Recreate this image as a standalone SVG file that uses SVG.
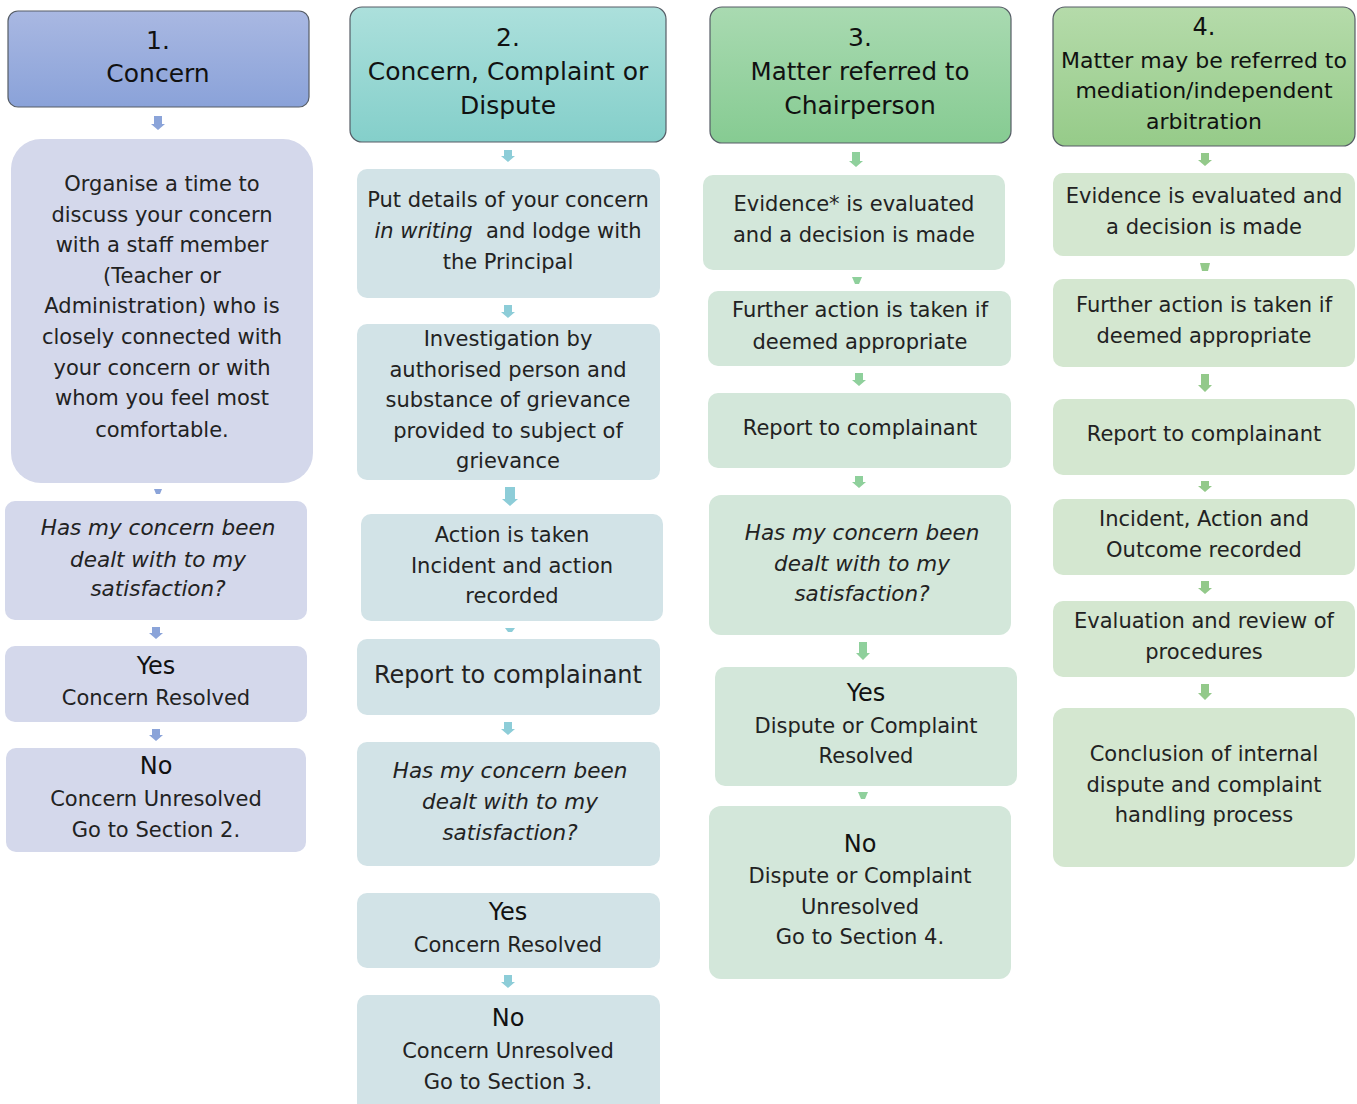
<svg xmlns="http://www.w3.org/2000/svg" width="1357" height="1104" viewBox="0 0 1357 1104">
<defs>
<linearGradient id="g1" x1="0" y1="0" x2="0" y2="1"><stop offset="0" stop-color="#a9b8e2"/><stop offset="1" stop-color="#8aa2d9"/></linearGradient>
<linearGradient id="g2" x1="0" y1="0" x2="0" y2="1"><stop offset="0" stop-color="#ace0dc"/><stop offset="1" stop-color="#84cfca"/></linearGradient>
<linearGradient id="g3" x1="0" y1="0" x2="0" y2="1"><stop offset="0" stop-color="#a9dab1"/><stop offset="1" stop-color="#86cb92"/></linearGradient>
<linearGradient id="g4" x1="0" y1="0" x2="0" y2="1"><stop offset="0" stop-color="#b5dbaa"/><stop offset="1" stop-color="#96cb89"/></linearGradient>
</defs>
<style>
text{font-family:"DejaVu Sans","Liberation Sans",sans-serif;fill:#222;text-anchor:middle;dominant-baseline:central}
.h{stroke:#565d66;stroke-width:1.2}
.t{font-size:21px}
.i{font-size:21.5px;font-style:italic}
.hd{font-size:25px;fill:#111}
.b1{fill:#d4d8eb}.b2{fill:#d2e3e7}.b3{fill:#d3e7da}.b4{fill:#d4e7d0}
.a1{fill:#8ba4d9}.a2{fill:#8dcdd8}.a3{fill:#8fd09c}.a4{fill:#93c98a}
</style>
<g id="connectors">
<path class="a1" d="M154 116H162V124H165L158 130L151 124H154Z"/>
<path class="a1" d="M154 489H162L160 494H156Z"/>
<path class="a1" d="M152 627H160V633H163L156 639L149 633H152Z"/>
<path class="a1" d="M152 729H160V735H163L156 741L149 735H152Z"/>
<path class="a2" d="M504 150H512V156H515L508 162L501 156H504Z"/>
<path class="a2" d="M504 305H512V312H515L508 318L501 312H504Z"/>
<path class="a2" d="M505 487H515V499H518L510 506L502 499H505Z"/>
<path class="a2" d="M505 628H515L512 632H508Z"/>
<path class="a2" d="M504 722H512V729H515L508 735L501 729H504Z"/>
<path class="a2" d="M504 975H512V982H515L508 988L501 982H504Z"/>
<path class="a3" d="M852 152H860V161H863L856 167L849 161H852Z"/>
<path class="a3" d="M852 277H862L859 284H855Z"/>
<path class="a3" d="M855 373H863V380H866L859 386L852 380H855Z"/>
<path class="a3" d="M855 476H863V482H866L859 488L852 482H855Z"/>
<path class="a3" d="M859 642H867V653H870L863 660L856 653H859Z"/>
<path class="a3" d="M858 792H868L865 799H861Z"/>
<path class="a4" d="M1201 153H1209V160H1212L1205 166L1198 160H1201Z"/>
<path class="a4" d="M1200 263H1210L1208 271H1202Z"/>
<path class="a4" d="M1201 374H1209V385H1212L1205 392L1198 385H1201Z"/>
<path class="a4" d="M1201 481H1209V486H1212L1205 492L1198 486H1201Z"/>
<path class="a4" d="M1201 581H1209V588H1212L1205 594L1198 588H1201Z"/>
<path class="a4" d="M1201 684H1209V693H1212L1205 700L1198 693H1201Z"/>
</g>
<g id="h1"><rect class="h" x="8" y="11" width="301" height="96" rx="10" fill="url(#g1)"/><text class="hd" x="158" y="40">1.</text><text class="hd" x="158" y="73">Concern</text></g>
<g id="n1a"><rect class="b1" x="11" y="139" width="302" height="344" rx="30"/>
<text class="t" x="162" y="184">Organise a time to</text><text class="t" x="162" y="215">discuss your concern</text><text class="t" x="162" y="245">with a staff member</text><text class="t" x="162" y="276">(Teacher or</text><text class="t" x="162" y="306">Administration) who is</text><text class="t" x="162" y="337">closely connected with</text><text class="t" x="162" y="368">your concern or with</text><text class="t" x="162" y="398">whom you feel most</text><text class="t" x="162" y="430">comfortable.</text></g>
<g id="n1b"><rect class="b1" x="5" y="501" width="302" height="119" rx="10"/><text class="i" x="158" y="527">Has my concern been</text><text class="i" x="158" y="559">dealt with to my</text><text class="i" x="158" y="588">satisfaction?</text></g>
<g id="n1c"><rect class="b1" x="5" y="646" width="302" height="76" rx="10"/><text class="hd" x="156" y="666" style="font-size:24px">Yes</text><text class="t" x="156" y="698">Concern Resolved</text></g>
<g id="n1d"><rect class="b1" x="6" y="748" width="300" height="104" rx="10"/><text class="hd" x="156" y="766" style="font-size:24px">No</text><text class="t" x="156" y="799">Concern Unresolved</text><text class="t" x="156" y="830">Go to Section 2.</text></g>

<g id="h2"><rect class="h" x="350" y="7" width="316" height="135" rx="12" fill="url(#g2)"/><text class="hd" x="508" y="37">2.</text><text class="hd" x="508" y="71">Concern, Complaint or</text><text class="hd" x="508" y="105">Dispute</text></g>
<g id="n2a"><rect class="b2" x="357" y="169" width="303" height="129" rx="10"/><text class="t" x="508" y="200">Put details of your concern</text><text class="t" x="508" y="231" xml:space="preserve"><tspan font-style="italic">in writing</tspan>  and lodge with</text><text class="t" x="508" y="262">the Principal</text></g>
<g id="n2b"><rect class="b2" x="357" y="324" width="303" height="156" rx="10"/><text class="t" x="508" y="339">Investigation by</text><text class="t" x="508" y="370">authorised person and</text><text class="t" x="508" y="400">substance of grievance</text><text class="t" x="508" y="431">provided to subject of</text><text class="t" x="508" y="461">grievance</text></g>
<g id="n2c"><rect class="b2" x="361" y="514" width="302" height="107" rx="10"/><text class="t" x="512" y="535">Action is taken</text><text class="t" x="512" y="566">Incident and action</text><text class="t" x="512" y="596">recorded</text></g>
<g id="n2d"><rect class="b2" x="357" y="639" width="303" height="76" rx="10"/><text class="t" x="508" y="675" style="font-size:24px">Report to complainant</text></g>
<g id="n2e"><rect class="b2" x="357" y="742" width="303" height="124" rx="10"/><text class="i" x="510" y="770">Has my concern been</text><text class="i" x="510" y="801">dealt with to my</text><text class="i" x="510" y="832">satisfaction?</text></g>
<g id="n2f"><rect class="b2" x="357" y="893" width="303" height="75" rx="10"/><text class="hd" x="508" y="912" style="font-size:24px">Yes</text><text class="t" x="508" y="945">Concern Resolved</text></g>
<g id="n2g"><rect class="b2" x="357" y="995" width="303" height="120" rx="10"/><text class="hd" x="508" y="1018" style="font-size:24px">No</text><text class="t" x="508" y="1051">Concern Unresolved</text><text class="t" x="508" y="1082">Go to Section 3.</text></g>

<g id="h3"><rect class="h" x="710" y="7" width="301" height="136" rx="12" fill="url(#g3)"/><text class="hd" x="860" y="37">3.</text><text class="hd" x="860" y="71" style="font-size:24.5px">Matter referred to</text><text class="hd" x="860" y="105">Chairperson</text></g>
<g id="n3a"><rect class="b3" x="703" y="175" width="302" height="95" rx="10"/><text class="t" x="854" y="204">Evidence* is evaluated</text><text class="t" x="854" y="235">and a decision is made</text></g>
<g id="n3b"><rect class="b3" x="708" y="291" width="303" height="75" rx="10"/><text class="t" x="860" y="310">Further action is taken if</text><text class="t" x="860" y="342">deemed appropriate</text></g>
<g id="n3c"><rect class="b3" x="708" y="393" width="303" height="75" rx="10"/><text class="t" x="860" y="428">Report to complainant</text></g>
<g id="n3d"><rect class="b3" x="709" y="495" width="302" height="140" rx="12"/><text class="i" x="862" y="532">Has my concern been</text><text class="i" x="862" y="563">dealt with to my</text><text class="i" x="862" y="593">satisfaction?</text></g>
<g id="n3e"><rect class="b3" x="715" y="667" width="302" height="119" rx="10"/><text class="hd" x="866" y="693" style="font-size:24px">Yes</text><text class="t" x="866" y="726">Dispute or Complaint</text><text class="t" x="866" y="756">Resolved</text></g>
<g id="n3f"><rect class="b3" x="709" y="806" width="302" height="173" rx="12"/><text class="hd" x="860" y="844" style="font-size:24px">No</text><text class="t" x="860" y="876">Dispute or Complaint</text><text class="t" x="860" y="907">Unresolved</text><text class="t" x="860" y="937">Go to Section 4.</text></g>

<g id="h4"><rect class="h" x="1053" y="7" width="302" height="139" rx="12" fill="url(#g4)"/><text class="hd" x="1204" y="27" style="font-size:24px">4.</text><text class="hd" x="1204" y="60" style="font-size:22px">Matter may be referred to</text><text class="hd" x="1204" y="90" style="font-size:22px">mediation/independent</text><text class="hd" x="1204" y="121" style="font-size:22px">arbitration</text></g>
<g id="n4a"><rect class="b4" x="1053" y="173" width="302" height="83" rx="10"/><text class="t" x="1204" y="196">Evidence is evaluated and</text><text class="t" x="1204" y="227">a decision is made</text></g>
<g id="n4b"><rect class="b4" x="1053" y="279" width="302" height="88" rx="10"/><text class="t" x="1204" y="305">Further action is taken if</text><text class="t" x="1204" y="336">deemed appropriate</text></g>
<g id="n4c"><rect class="b4" x="1053" y="399" width="302" height="76" rx="10"/><text class="t" x="1204" y="434">Report to complainant</text></g>
<g id="n4d"><rect class="b4" x="1053" y="499" width="302" height="76" rx="10"/><text class="t" x="1204" y="519">Incident, Action and</text><text class="t" x="1204" y="550">Outcome recorded</text></g>
<g id="n4e"><rect class="b4" x="1053" y="601" width="302" height="76" rx="10"/><text class="t" x="1204" y="621">Evaluation and review of</text><text class="t" x="1204" y="652">procedures</text></g>
<g id="n4f"><rect class="b4" x="1053" y="708" width="302" height="159" rx="12"/><text class="t" x="1204" y="754">Conclusion of internal</text><text class="t" x="1204" y="785">dispute and complaint</text><text class="t" x="1204" y="815">handling process</text></g>
</svg>
